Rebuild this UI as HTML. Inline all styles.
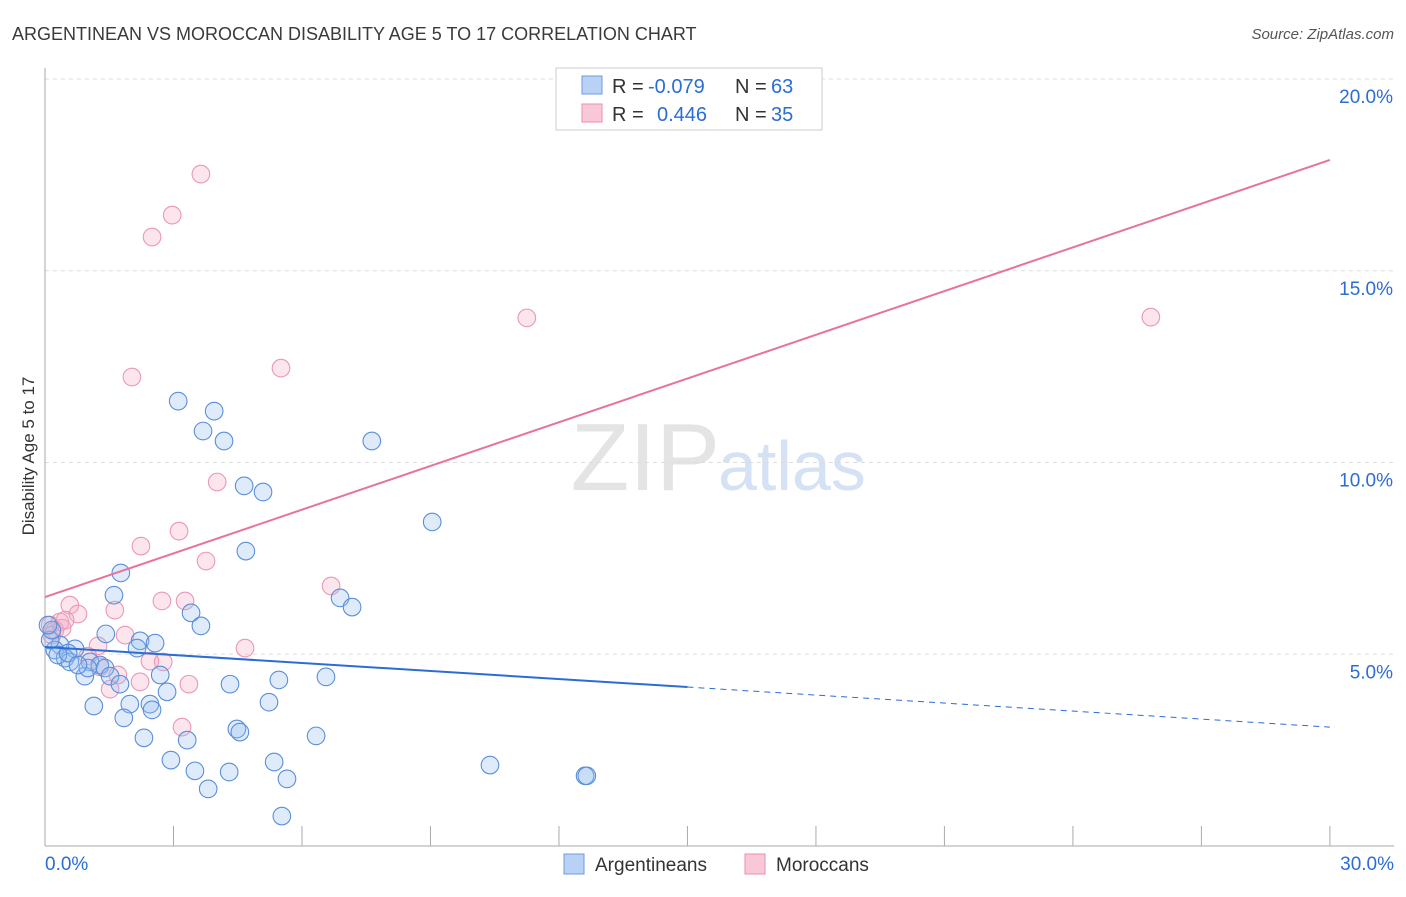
<!DOCTYPE html>
<html><head><meta charset="utf-8"><style>
body{margin:0;background:#fff;font-family:"Liberation Sans",sans-serif;}
svg text{font-family:"Liberation Sans",sans-serif;}
</style></head><body>
<svg id="c" width="1406" height="892" xmlns="http://www.w3.org/2000/svg">
<text x="12" y="40" font-size="18" fill="#3a3a3a">ARGENTINEAN VS MOROCCAN DISABILITY AGE 5 TO 17 CORRELATION CHART</text>
<text x="1394" y="39" font-size="15" fill="#555" text-anchor="end" font-style="italic">Source: ZipAtlas.com</text>
<text x="720" y="490" font-size="96" fill="#e4e4e4" text-anchor="end" font-family="Liberation Serif">ZIP</text>
<text x="718" y="490" font-size="70" fill="#d5e2f5">atlas</text>
<g id="grid"></g><g id="pts"></g><g id="lines"></g>
<text transform="translate(34,456) rotate(-90)" font-size="17" fill="#333" text-anchor="middle">Disability Age 5 to 17</text>
<g>
<rect x="556" y="68" width="266" height="62" fill="#fff" stroke="#ccc"/>
<rect x="582" y="76" width="20" height="18" fill="#b8d2f5" stroke="#6f9be0"/>
<rect x="582" y="104" width="20" height="18" fill="#f9c8d8" stroke="#eb8fae"/>
<text x="612" y="93" font-size="20" fill="#333">R =</text>
<text x="648" y="93" font-size="20" fill="#2b6dd4">-0.079</text>
<text x="735" y="93" font-size="20" fill="#333">N =</text>
<text x="771" y="93" font-size="20" fill="#2b6dd4">63</text>
<text x="612" y="121" font-size="20" fill="#333">R =</text>
<text x="657" y="121" font-size="20" fill="#2b6dd4">0.446</text>
<text x="735" y="121" font-size="20" fill="#333">N =</text>
<text x="771" y="121" font-size="20" fill="#2b6dd4">35</text>
</g>
<g>
<rect x="564" y="854" width="20" height="20" fill="#b8d2f5" stroke="#6f9be0"/>
<text x="595" y="871" font-size="19" fill="#333">Argentineans</text>
<rect x="745" y="854" width="20" height="20" fill="#f9c8d8" stroke="#eb8fae"/>
<text x="776" y="871" font-size="19" fill="#333">Moroccans</text>
</g>
</svg>
<script>
const xTicks=[0,30];
const yTicks=[5,10,15,20];
const bluePx=[[178,401],[214,411],[203,431],[224,441],[372,441],[244,486],[263,492],[432,522],[246,551],[121,573],[114,595],[340,598],[352,607],[191,613],[201,626],[106,634],[140,641],[155,643],[137,648],[75,649],[60,645],[55,650],[65,658],[70,662],[90,662],[100,665],[105,668],[85,676],[110,676],[120,684],[160,675],[230,684],[279,680],[326,677],[167,692],[94,706],[130,704],[150,704],[152,710],[124,718],[269,702],[237,729],[240,732],[316,736],[144,738],[187,740],[171,760],[195,771],[229,772],[274,762],[287,779],[208,789],[490,765],[585,776],[587,776],[282,816],[50,640],[52,630],[48,625],[58,655],[68,653],[88,668],[78,665]];
const pinkPx=[[201,174],[172,215],[152,237],[527,318],[1151,317],[281,368],[132,377],[217,482],[179,531],[141,546],[206,561],[331,586],[70,605],[162,601],[185,601],[115,610],[78,614],[60,622],[55,630],[125,635],[98,646],[245,648],[88,656],[150,661],[163,662],[100,667],[118,675],[140,682],[189,684],[110,689],[182,727],[50,625],[52,635],[62,628],[65,620]];
const blueX=bluePx.map(p=>+((p[0]-45)/42.83).toFixed(2)), blueY=bluePx.map(p=>+((846-p[1])/38.35).toFixed(2));
const pinkX=pinkPx.map(p=>+((p[0]-45)/42.83).toFixed(2)), pinkY=pinkPx.map(p=>+((846-p[1])/38.35).toFixed(2));
const blueTrend=[5.19,3.10];
const pinkTrend=[6.49,17.89];
const X=v=>45+v*42.83, Y=v=>846-v*38.35;
const NS="http://www.w3.org/2000/svg";
function mk(tag,attrs,parent){const e=document.createElementNS(NS,tag);for(const k in attrs)e.setAttribute(k,attrs[k]);document.getElementById(parent).appendChild(e);return e;}
yTicks.forEach(t=>{
 const l=mk('line',{x1:45,x2:1394,y1:Y(t),y2:Y(t),stroke:'#ddd','stroke-dasharray':'4,4'},'grid');
 
 
 const tx=mk('text',{x:1393,y:Y(t)+24,'font-size':19,fill:'#2b6dd4','text-anchor':'end'},'grid');
 tx.textContent=t.toFixed(1)+'%';
 
 
});
const ax=mk('line',{x1:45,x2:45,y1:68,y2:846,stroke:'#aaa'},'grid');


const bx=mk('line',{x1:45,x2:1394,y1:846,y2:846,stroke:'#aaa'},'grid');


for(let i=1;i<=10;i++){const v=i*3;const t=mk('line',{x1:X(v),x2:X(v),y1:826,y2:846,stroke:'#aaa'},'grid');
 
 }
xTicks.forEach((t,i)=>{const tx=mk('text',{x:i?1394:45,y:870,'font-size':19,fill:'#2b6dd4','text-anchor':i?'end':'start'},'grid');
 tx.textContent=t.toFixed(1)+'%';
 
 });
pinkX.forEach((x,i)=>{const c=mk('circle',{cx:X(x),cy:Y(pinkY[i]),r:8.8,fill:'rgba(244,170,195,0.3)',stroke:'#eb98b4','stroke-width':1.1},'pts');
 
 });
blueX.forEach((x,i)=>{const c=mk('circle',{cx:X(x),cy:Y(blueY[i]),r:8.8,fill:'rgba(150,190,240,0.3)',stroke:'#5a8fdc','stroke-width':1.1},'pts');
 
 });
const mid=15, bm=blueTrend[0]+(blueTrend[1]-blueTrend[0])*mid/30;
const b1=mk('line',{x1:X(0),y1:Y(blueTrend[0]),x2:X(mid),y2:Y(bm),stroke:'#2b6dd4','stroke-width':2},'lines');


const b2=mk('line',{x1:X(mid),y1:Y(bm),x2:X(30),y2:Y(blueTrend[1]),stroke:'#2b6dd4','stroke-width':1,'stroke-dasharray':'6,5'},'lines');


const p1=mk('line',{x1:X(0),y1:Y(pinkTrend[0]),x2:X(30),y2:Y(pinkTrend[1]),stroke:'#e8739a','stroke-width':2},'lines');


</script>
</body></html>
